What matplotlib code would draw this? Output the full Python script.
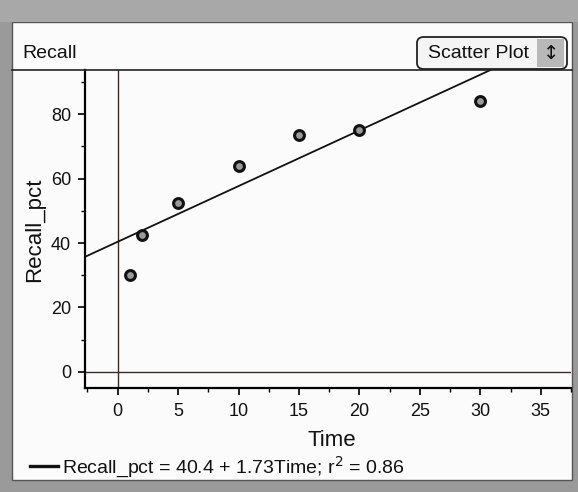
import matplotlib
matplotlib.use("Agg")
import matplotlib.pyplot as plt
import numpy as np
from matplotlib.patches import Rectangle, FancyBboxPatch
from matplotlib.lines import Line2D
from matplotlib.ticker import MultipleLocator

plt.rcParams['font.family'] = ['Liberation Sans', 'DejaVu Sans']

# Data
time = [1, 2, 5, 10, 15, 20, 30]
recall_pct = [30, 42.5, 52.5, 64, 73.5, 75, 84]
intercept = 40.4
slope = 1.73
r2 = 0.86
x_ticks = [0, 5, 10, 15, 20, 25, 30, 35]
y_ticks = [0, 20, 40, 60, 80]

W, H = 578, 492
fig = plt.figure(figsize=(W / 100, H / 100), dpi=100)
fig.patch.set_facecolor('#9a9a9a')

# inner white panel
fig.patches.append(Rectangle((12 / W, 12 / H), (572 - 12) / W, (470 - 12) / H,
                             transform=fig.transFigure, facecolor='#fbfbfb',
                             edgecolor='#555555', lw=1.0, zorder=0))
# top strip
fig.patches.append(Rectangle((0, (H - 22) / H), 1, 22 / H, transform=fig.transFigure,
                             facecolor='#a8a8a8', edgecolor='none', zorder=0))
# header separator line
fig.add_artist(Line2D([12 / W, 572 / W], [(H - 70) / H, (H - 70) / H],
                      transform=fig.transFigure, color='#222222', lw=1.2, zorder=6))

fig.text(22 / W, (H - 53) / H, 'Recall', fontsize=14, va='center', ha='left', color='#111111')
fig.patches.append(FancyBboxPatch((417 / W, (H - 69) / H), (567 - 417) / W, 32 / H,
                                  boxstyle='round,pad=0,rounding_size=0.012',
                                  transform=fig.transFigure, facecolor='#f4f4f4',
                                  edgecolor='#222222', lw=1.3, zorder=1))
fig.patches.append(Rectangle((537 / W, (H - 67) / H), 27 / W, 28 / H, transform=fig.transFigure,
                             facecolor='#b8b8b8', edgecolor='none', zorder=2))
fig.text(479 / W, (H - 53) / H, 'Scatter Plot', fontsize=14, va='center', ha='center',
         color='#111111', zorder=3)
fig.text(551 / W, (H - 53) / H, '\u2195', fontsize=14, va='center', ha='center',
         color='#111111', zorder=3, family=['DejaVu Sans'])

ax = fig.add_axes([85 / W, (H - 388) / H, (571 - 85) / W, (388 - 70) / H])
ax.set_zorder(5)
ax.set_facecolor('#fbfbfb')
ax.set_xlim(-2.7, 37.5)
ax.set_ylim(-5, 93.75)

ax.axhline(0, color='#3a2a2a', lw=1.0, zorder=1)
ax.axvline(0, color='#3a2a2a', lw=1.0, zorder=1)

xs = np.array(ax.get_xlim())
ax.plot(xs, intercept + slope * xs, color='#111111', lw=1.3, zorder=2)
ax.scatter(time, recall_pct, s=50, facecolor='#9a9a9a', edgecolor='#111111', linewidth=2.2, zorder=3)

for s in ['top', 'right']:
    ax.spines[s].set_visible(False)
ax.spines['left'].set_linewidth(1.6)
ax.spines['bottom'].set_linewidth(1.6)

ax.set_xticks(x_ticks)
ax.set_yticks(y_ticks)
ax.xaxis.set_minor_locator(MultipleLocator(2.5))
ax.yaxis.set_minor_locator(MultipleLocator(10))
ax.tick_params(axis='both', which='major', length=5, width=1.3, labelsize=13, colors='#111111')
ax.tick_params(axis='x', which='major', pad=6)
ax.tick_params(axis='y', which='major', pad=5)
ax.tick_params(axis='both', which='minor', length=3, width=1.0)
ax.set_xlabel('Time', fontsize=16, color='#111111')
ax.set_ylabel('Recall_pct', fontsize=16, color='#111111')
ax.xaxis.label.set_va('center')
ax.yaxis.label.set_va('center')
ax.xaxis.set_label_coords((332 - 85) / 486, -(440 - 388) / 318)
ax.yaxis.set_label_coords(-(85 - 35) / 486, (388 - 230) / 318)

# legend
fig.add_artist(Line2D([30 / W, 58 / W], [(H - 466) / H, (H - 466) / H],
                      transform=fig.transFigure, color='#111111', lw=2.4))
fig.text(62 / W, (H - 467) / H,
         'Recall_pct = %.1f + %.2fTime; r$^2$ = %.2f' % (intercept, slope, r2),
         fontsize=14, va='center', ha='left', color='#111111')

fig.savefig('out.png', dpi=100, facecolor=fig.get_facecolor())
